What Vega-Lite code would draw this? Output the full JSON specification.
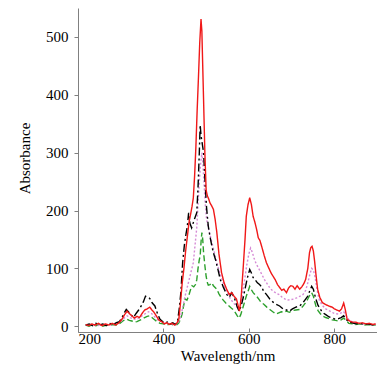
{
"$schema": "https://vega.github.io/schema/vega-lite/v6.json",
"width": 299, "height": 324,
"autosize": {"type": "none"},
"padding": {"left": 78, "top": 8, "right": 0, "bottom": 44},
"config": {
  "view": {"stroke": null},
  "font": "Liberation Serif",
  "axis": {"grid": false, "domainColor": "#808080", "tickColor": "#808080", "tickSize": 4, "labelColor": "#000", "titleColor": "#000", "labelFontSize": 15, "titleFontSize": 15, "titleFontWeight": "normal", "labelFont": "Liberation Serif", "titleFont": "Liberation Serif"}
},
"data": {"values": [
{"s":"g","x":218,"y":2},{"s":"g","x":226,"y":0},{"s":"g","x":234,"y":3},{"s":"g","x":242,"y":1},{"s":"g","x":250,"y":3},{"s":"g","x":258,"y":0},{"s":"g","x":266,"y":2},{"s":"g","x":274,"y":1},{"s":"g","x":282,"y":3},{"s":"g","x":290,"y":2},{"s":"g","x":298,"y":5},{"s":"g","x":305,"y":9},{"s":"g","x":310,"y":11},{"s":"g","x":315,"y":12},{"s":"g","x":320,"y":10},{"s":"g","x":326,"y":9},{"s":"g","x":332,"y":7},{"s":"g","x":338,"y":8},{"s":"g","x":344,"y":10},{"s":"g","x":350,"y":12},{"s":"g","x":356,"y":15},{"s":"g","x":362,"y":17},{"s":"g","x":368,"y":18},{"s":"g","x":373,"y":15},{"s":"g","x":378,"y":12},{"s":"g","x":385,"y":8},{"s":"g","x":392,"y":5},{"s":"g","x":400,"y":4},{"s":"g","x":408,"y":2},{"s":"g","x":416,"y":4},{"s":"g","x":424,"y":2},{"s":"g","x":432,"y":3},{"s":"g","x":436,"y":6},{"s":"g","x":440,"y":12},{"s":"g","x":444,"y":22},{"s":"g","x":448,"y":38},{"s":"g","x":451,"y":47},{"s":"g","x":455,"y":45},{"s":"g","x":459,"y":52},{"s":"g","x":463,"y":62},{"s":"g","x":467,"y":70},{"s":"g","x":471,"y":68},{"s":"g","x":475,"y":72},{"s":"g","x":478,"y":80},{"s":"g","x":481,"y":100},{"s":"g","x":484,"y":115},{"s":"g","x":486,"y":121},{"s":"g","x":488,"y":145},{"s":"g","x":490,"y":162},{"s":"g","x":492,"y":150},{"s":"g","x":494,"y":127},{"s":"g","x":497,"y":105},{"s":"g","x":500,"y":86},{"s":"g","x":503,"y":75},{"s":"g","x":505,"y":71},{"s":"g","x":509,"y":72},{"s":"g","x":513,"y":75},{"s":"g","x":517,"y":70},{"s":"g","x":521,"y":67},{"s":"g","x":525,"y":64},{"s":"g","x":530,"y":56},{"s":"g","x":535,"y":50},{"s":"g","x":540,"y":45},{"s":"g","x":546,"y":40},{"s":"g","x":552,"y":36},{"s":"g","x":558,"y":32},{"s":"g","x":563,"y":29},{"s":"g","x":568,"y":24},{"s":"g","x":573,"y":18},{"s":"g","x":577,"y":14},{"s":"g","x":581,"y":20},{"s":"g","x":586,"y":32},{"s":"g","x":590,"y":42},{"s":"g","x":594,"y":52},{"s":"g","x":598,"y":60},{"s":"g","x":602,"y":69},{"s":"g","x":606,"y":63},{"s":"g","x":610,"y":58},{"s":"g","x":614,"y":55},{"s":"g","x":620,"y":50},{"s":"g","x":625,"y":45},{"s":"g","x":629,"y":41},{"s":"g","x":635,"y":38},{"s":"g","x":642,"y":33},{"s":"g","x":649,"y":29},{"s":"g","x":656,"y":25},{"s":"g","x":664,"y":21},{"s":"g","x":670,"y":23},{"s":"g","x":676,"y":25},{"s":"g","x":682,"y":24},{"s":"g","x":688,"y":26},{"s":"g","x":695,"y":24},{"s":"g","x":702,"y":27},{"s":"g","x":710,"y":28},{"s":"g","x":719,"y":29},{"s":"g","x":726,"y":34},{"s":"g","x":732,"y":40},{"s":"g","x":738,"y":47},{"s":"g","x":743,"y":54},{"s":"g","x":747,"y":58},{"s":"g","x":751,"y":52},{"s":"g","x":754,"y":43},{"s":"g","x":757,"y":35},{"s":"g","x":762,"y":27},{"s":"g","x":767,"y":22},{"s":"g","x":772,"y":18},{"s":"g","x":780,"y":15},{"s":"g","x":788,"y":13},{"s":"g","x":795,"y":11},{"s":"g","x":803,"y":10},{"s":"g","x":810,"y":9},{"s":"g","x":816,"y":11},{"s":"g","x":822,"y":14},{"s":"g","x":828,"y":10},{"s":"g","x":834,"y":5},{"s":"g","x":842,"y":4},{"s":"g","x":850,"y":3},{"s":"g","x":860,"y":4},{"s":"g","x":870,"y":2},{"s":"g","x":880,"y":3},{"s":"g","x":890,"y":2},{"s":"g","x":897,"y":2},
{"s":"p","x":218,"y":2},{"s":"p","x":230,"y":3},{"s":"p","x":245,"y":1},{"s":"p","x":260,"y":3},{"s":"p","x":275,"y":2},{"s":"p","x":290,"y":4},{"s":"p","x":300,"y":8},{"s":"p","x":308,"y":14},{"s":"p","x":315,"y":18},{"s":"p","x":322,"y":15},{"s":"p","x":330,"y":12},{"s":"p","x":340,"y":13},{"s":"p","x":350,"y":18},{"s":"p","x":358,"y":22},{"s":"p","x":365,"y":25},{"s":"p","x":372,"y":22},{"s":"p","x":380,"y":16},{"s":"p","x":388,"y":10},{"s":"p","x":395,"y":8},{"s":"p","x":405,"y":4},{"s":"p","x":415,"y":5},{"s":"p","x":425,"y":3},{"s":"p","x":433,"y":4},{"s":"p","x":438,"y":12},{"s":"p","x":442,"y":22},{"s":"p","x":446,"y":35},{"s":"p","x":450,"y":50},{"s":"p","x":455,"y":65},{"s":"p","x":460,"y":80},{"s":"p","x":465,"y":95},{"s":"p","x":470,"y":110},{"s":"p","x":474,"y":140},{"s":"p","x":478,"y":170},{"s":"p","x":481,"y":210},{"s":"p","x":484,"y":250},{"s":"p","x":487,"y":280},{"s":"p","x":490,"y":300},{"s":"p","x":492,"y":285},{"s":"p","x":494,"y":260},{"s":"p","x":496,"y":235},{"s":"p","x":498,"y":210},{"s":"p","x":501,"y":185},{"s":"p","x":505,"y":170},{"s":"p","x":510,"y":155},{"s":"p","x":515,"y":140},{"s":"p","x":520,"y":125},{"s":"p","x":525,"y":110},{"s":"p","x":532,"y":92},{"s":"p","x":540,"y":75},{"s":"p","x":548,"y":60},{"s":"p","x":555,"y":50},{"s":"p","x":562,"y":42},{"s":"p","x":570,"y":35},{"s":"p","x":576,"y":30},{"s":"p","x":580,"y":32},{"s":"p","x":585,"y":55},{"s":"p","x":590,"y":80},{"s":"p","x":595,"y":105},{"s":"p","x":600,"y":125},{"s":"p","x":604,"y":135},{"s":"p","x":608,"y":128},{"s":"p","x":612,"y":118},{"s":"p","x":617,"y":108},{"s":"p","x":623,"y":100},{"s":"p","x":630,"y":90},{"s":"p","x":637,"y":80},{"s":"p","x":644,"y":72},{"s":"p","x":650,"y":65},{"s":"p","x":658,"y":60},{"s":"p","x":664,"y":57},{"s":"p","x":670,"y":55},{"s":"p","x":678,"y":50},{"s":"p","x":685,"y":47},{"s":"p","x":690,"y":45},{"s":"p","x":698,"y":46},{"s":"p","x":705,"y":47},{"s":"p","x":712,"y":49},{"s":"p","x":720,"y":52},{"s":"p","x":727,"y":55},{"s":"p","x":733,"y":62},{"s":"p","x":738,"y":75},{"s":"p","x":743,"y":90},{"s":"p","x":747,"y":100},{"s":"p","x":751,"y":97},{"s":"p","x":755,"y":85},{"s":"p","x":760,"y":62},{"s":"p","x":765,"y":45},{"s":"p","x":772,"y":36},{"s":"p","x":780,"y":30},{"s":"p","x":790,"y":26},{"s":"p","x":800,"y":22},{"s":"p","x":810,"y":21},{"s":"p","x":816,"y":23},{"s":"p","x":822,"y":25},{"s":"p","x":828,"y":18},{"s":"p","x":835,"y":10},{"s":"p","x":845,"y":7},{"s":"p","x":855,"y":5},{"s":"p","x":865,"y":4},{"s":"p","x":880,"y":3},{"s":"p","x":897,"y":3},
{"s":"k","x":218,"y":2},{"s":"k","x":226,"y":4},{"s":"k","x":234,"y":1},{"s":"k","x":242,"y":5},{"s":"k","x":250,"y":2},{"s":"k","x":258,"y":4},{"s":"k","x":266,"y":1},{"s":"k","x":274,"y":5},{"s":"k","x":282,"y":3},{"s":"k","x":290,"y":6},{"s":"k","x":297,"y":8},{"s":"k","x":303,"y":15},{"s":"k","x":309,"y":24},{"s":"k","x":313,"y":29},{"s":"k","x":318,"y":25},{"s":"k","x":324,"y":20},{"s":"k","x":330,"y":15},{"s":"k","x":336,"y":22},{"s":"k","x":342,"y":28},{"s":"k","x":348,"y":35},{"s":"k","x":353,"y":42},{"s":"k","x":358,"y":52},{"s":"k","x":363,"y":50},{"s":"k","x":368,"y":48},{"s":"k","x":374,"y":40},{"s":"k","x":380,"y":35},{"s":"k","x":386,"y":22},{"s":"k","x":392,"y":12},{"s":"k","x":398,"y":8},{"s":"k","x":404,"y":5},{"s":"k","x":410,"y":8},{"s":"k","x":416,"y":4},{"s":"k","x":422,"y":6},{"s":"k","x":428,"y":3},{"s":"k","x":433,"y":8},{"s":"k","x":437,"y":30},{"s":"k","x":441,"y":60},{"s":"k","x":445,"y":110},{"s":"k","x":449,"y":140},{"s":"k","x":453,"y":160},{"s":"k","x":456,"y":173},{"s":"k","x":459,"y":196},{"s":"k","x":462,"y":178},{"s":"k","x":466,"y":170},{"s":"k","x":470,"y":179},{"s":"k","x":474,"y":188},{"s":"k","x":478,"y":196},{"s":"k","x":481,"y":240},{"s":"k","x":484,"y":300},{"s":"k","x":486,"y":348},{"s":"k","x":488,"y":330},{"s":"k","x":490,"y":320},{"s":"k","x":492,"y":310},{"s":"k","x":494,"y":300},{"s":"k","x":496,"y":270},{"s":"k","x":498,"y":242},{"s":"k","x":501,"y":205},{"s":"k","x":505,"y":173},{"s":"k","x":509,"y":155},{"s":"k","x":513,"y":140},{"s":"k","x":517,"y":127},{"s":"k","x":522,"y":115},{"s":"k","x":527,"y":100},{"s":"k","x":533,"y":81},{"s":"k","x":540,"y":68},{"s":"k","x":548,"y":55},{"s":"k","x":554,"y":50},{"s":"k","x":560,"y":58},{"s":"k","x":564,"y":52},{"s":"k","x":567,"y":47},{"s":"k","x":572,"y":35},{"s":"k","x":577,"y":26},{"s":"k","x":582,"y":35},{"s":"k","x":587,"y":50},{"s":"k","x":591,"y":64},{"s":"k","x":596,"y":82},{"s":"k","x":602,"y":98},{"s":"k","x":606,"y":92},{"s":"k","x":610,"y":84},{"s":"k","x":614,"y":81},{"s":"k","x":620,"y":75},{"s":"k","x":625,"y":72},{"s":"k","x":629,"y":69},{"s":"k","x":635,"y":60},{"s":"k","x":641,"y":55},{"s":"k","x":649,"y":47},{"s":"k","x":656,"y":42},{"s":"k","x":664,"y":38},{"s":"k","x":672,"y":35},{"s":"k","x":680,"y":30},{"s":"k","x":688,"y":28},{"s":"k","x":695,"y":26},{"s":"k","x":702,"y":30},{"s":"k","x":710,"y":33},{"s":"k","x":719,"y":35},{"s":"k","x":726,"y":40},{"s":"k","x":732,"y":46},{"s":"k","x":738,"y":52},{"s":"k","x":743,"y":62},{"s":"k","x":747,"y":69},{"s":"k","x":751,"y":64},{"s":"k","x":754,"y":55},{"s":"k","x":757,"y":47},{"s":"k","x":762,"y":36},{"s":"k","x":767,"y":30},{"s":"k","x":772,"y":24},{"s":"k","x":780,"y":20},{"s":"k","x":788,"y":16},{"s":"k","x":795,"y":14},{"s":"k","x":803,"y":12},{"s":"k","x":810,"y":13},{"s":"k","x":816,"y":15},{"s":"k","x":822,"y":18},{"s":"k","x":828,"y":12},{"s":"k","x":834,"y":7},{"s":"k","x":842,"y":6},{"s":"k","x":850,"y":4},{"s":"k","x":860,"y":5},{"s":"k","x":870,"y":3},{"s":"k","x":880,"y":4},{"s":"k","x":890,"y":2},{"s":"k","x":897,"y":3},
{"s":"r","x":218,"y":3},{"s":"r","x":225,"y":1},{"s":"r","x":232,"y":4},{"s":"r","x":240,"y":2},{"s":"r","x":248,"y":5},{"s":"r","x":256,"y":1},{"s":"r","x":264,"y":4},{"s":"r","x":272,"y":2},{"s":"r","x":280,"y":5},{"s":"r","x":288,"y":2},{"s":"r","x":296,"y":6},{"s":"r","x":303,"y":12},{"s":"r","x":309,"y":20},{"s":"r","x":315,"y":26},{"s":"r","x":320,"y":22},{"s":"r","x":326,"y":18},{"s":"r","x":332,"y":14},{"s":"r","x":338,"y":17},{"s":"r","x":344,"y":15},{"s":"r","x":350,"y":22},{"s":"r","x":356,"y":28},{"s":"r","x":362,"y":30},{"s":"r","x":368,"y":33},{"s":"r","x":373,"y":28},{"s":"r","x":378,"y":24},{"s":"r","x":384,"y":17},{"s":"r","x":390,"y":10},{"s":"r","x":396,"y":8},{"s":"r","x":402,"y":4},{"s":"r","x":408,"y":6},{"s":"r","x":414,"y":3},{"s":"r","x":420,"y":5},{"s":"r","x":426,"y":2},{"s":"r","x":432,"y":6},{"s":"r","x":436,"y":12},{"s":"r","x":440,"y":40},{"s":"r","x":444,"y":75},{"s":"r","x":448,"y":100},{"s":"r","x":452,"y":130},{"s":"r","x":456,"y":155},{"s":"r","x":460,"y":180},{"s":"r","x":464,"y":195},{"s":"r","x":467,"y":207},{"s":"r","x":470,"y":222},{"s":"r","x":473,"y":260},{"s":"r","x":476,"y":310},{"s":"r","x":479,"y":374},{"s":"r","x":482,"y":430},{"s":"r","x":485,"y":490},{"s":"r","x":488,"y":531},{"s":"r","x":490,"y":510},{"s":"r","x":492,"y":450},{"s":"r","x":494,"y":391},{"s":"r","x":497,"y":300},{"s":"r","x":500,"y":235},{"s":"r","x":503,"y":225},{"s":"r","x":506,"y":220},{"s":"r","x":509,"y":213},{"s":"r","x":513,"y":208},{"s":"r","x":517,"y":202},{"s":"r","x":521,"y":185},{"s":"r","x":525,"y":162},{"s":"r","x":530,"y":125},{"s":"r","x":536,"y":93},{"s":"r","x":542,"y":75},{"s":"r","x":548,"y":64},{"s":"r","x":554,"y":55},{"s":"r","x":560,"y":58},{"s":"r","x":565,"y":52},{"s":"r","x":571,"y":47},{"s":"r","x":575,"y":35},{"s":"r","x":578,"y":26},{"s":"r","x":582,"y":50},{"s":"r","x":587,"y":104},{"s":"r","x":591,"y":150},{"s":"r","x":594,"y":190},{"s":"r","x":598,"y":210},{"s":"r","x":602,"y":222},{"s":"r","x":606,"y":210},{"s":"r","x":610,"y":190},{"s":"r","x":614,"y":180},{"s":"r","x":618,"y":168},{"s":"r","x":622,"y":153},{"s":"r","x":626,"y":148},{"s":"r","x":630,"y":138},{"s":"r","x":636,"y":122},{"s":"r","x":641,"y":110},{"s":"r","x":647,"y":100},{"s":"r","x":652,"y":92},{"s":"r","x":657,"y":86},{"s":"r","x":662,"y":80},{"s":"r","x":667,"y":72},{"s":"r","x":672,"y":67},{"s":"r","x":677,"y":62},{"s":"r","x":682,"y":64},{"s":"r","x":688,"y":58},{"s":"r","x":693,"y":66},{"s":"r","x":698,"y":70},{"s":"r","x":703,"y":69},{"s":"r","x":708,"y":64},{"s":"r","x":713,"y":70},{"s":"r","x":719,"y":64},{"s":"r","x":724,"y":68},{"s":"r","x":729,"y":74},{"s":"r","x":733,"y":81},{"s":"r","x":738,"y":100},{"s":"r","x":742,"y":127},{"s":"r","x":745,"y":136},{"s":"r","x":748,"y":138},{"s":"r","x":751,"y":130},{"s":"r","x":754,"y":112},{"s":"r","x":757,"y":90},{"s":"r","x":761,"y":64},{"s":"r","x":766,"y":50},{"s":"r","x":772,"y":41},{"s":"r","x":778,"y":38},{"s":"r","x":784,"y":36},{"s":"r","x":790,"y":34},{"s":"r","x":795,"y":33},{"s":"r","x":800,"y":30},{"s":"r","x":806,"y":28},{"s":"r","x":812,"y":26},{"s":"r","x":817,"y":30},{"s":"r","x":822,"y":40},{"s":"r","x":826,"y":28},{"s":"r","x":830,"y":12},{"s":"r","x":836,"y":9},{"s":"r","x":842,"y":7},{"s":"r","x":850,"y":7},{"s":"r","x":858,"y":5},{"s":"r","x":866,"y":6},{"s":"r","x":874,"y":4},{"s":"r","x":882,"y":5},{"s":"r","x":890,"y":3},{"s":"r","x":897,"y":4}
]},
"mark": {"type": "line", "strokeWidth": 1.4, "clip": true},
"encoding": {
  "x": {"field": "x", "type": "quantitative", "scale": {"domain": [200, 900], "nice": false}, "axis": {"title": "Wavelength/nm", "values": [200, 400, 600, 800], "tickSize": -4, "labelPadding": 3, "titlePadding": 2}},
  "y": {"field": "y", "type": "quantitative", "scale": {"domain": [-10, 550], "nice": false, "zero": false}, "axis": {"title": "Absorbance", "values": [0, 100, 200, 300, 400, 500], "labelPadding": 6, "titleX": -46, "titleY": 150}},
  "color": {"field": "s", "type": "nominal", "scale": {"domain": ["g", "p", "k", "r"], "range": ["#2ca02c", "#d58ad5", "#000000", "#f01818"]}, "legend": null},
  "strokeDash": {"field": "s", "type": "nominal", "scale": {"domain": ["g", "p", "k", "r"], "range": [[6, 3], [2, 2], [8, 3, 2, 3], [1, 0]]}, "legend": null}
}
}
